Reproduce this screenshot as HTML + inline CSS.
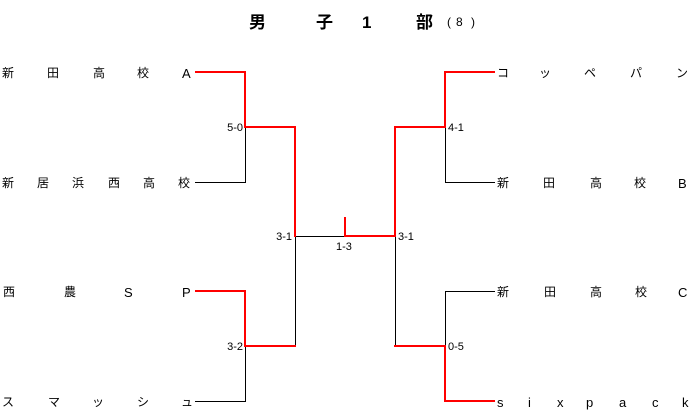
<!DOCTYPE html>
<html><head><meta charset="utf-8">
<style>
html,body{margin:0;padding:0;background:#fff;}
body{width:694px;height:420px;overflow:hidden;}
svg{display:block;}
.n{font-family:"Liberation Sans","Noto Sans CJK JP",sans-serif;font-size:12px;fill:#000;}
.l{font-family:"Liberation Sans",sans-serif;font-size:13px;fill:#000;}
.s{font-family:"Liberation Sans",sans-serif;font-size:11px;fill:#000;}
.t{font-family:"Liberation Sans","Noto Sans CJK JP",sans-serif;font-size:17px;font-weight:bold;fill:#000;}
</style></head>
<body>
<svg width="694" height="420" viewBox="0 0 694 420" xmlns="http://www.w3.org/2000/svg">
<g fill="none" stroke="#000" stroke-width="1" shape-rendering="crispEdges">
  <path d="M195,182.5 H245.5 V127"/>
  <path d="M195,401.5 H245.5 V346"/>
  <path d="M295.5,346 V236.5 H345"/>
  <path d="M495,182.5 H445.5 V127"/>
  <path d="M495,291.5 H445.5 V346"/>
  <path d="M395.5,346 V236"/>
</g>
<g fill="none" stroke="#f00" stroke-width="2" shape-rendering="crispEdges" stroke-linejoin="miter" stroke-linecap="square">
  <path d="M196,72 H245 V127 H295 V236"/>
  <path d="M196,291 H245 V346 H295"/>
  <path d="M345,218 V236 H395"/>
  <path d="M494,72 H445 V127 H395 V236"/>
  <path d="M494,401 H445 V346 H395"/>
</g>
<!-- title -->
<text class="t" x="249" y="28">男</text>
<text class="t" x="316" y="28">子</text>
<text class="t" x="362" y="28">1</text>
<text class="t" x="416" y="28">部</text>
<text class="n" x="447" y="26">(</text>
<text class="n" x="456" y="26">8</text>
<text class="n" x="471" y="26">)</text>
<!-- left names -->
<text class="n" x="2" y="77">新</text><text class="n" x="47" y="77">田</text><text class="n" x="93" y="77">高</text><text class="n" x="137" y="77">校</text><text class="l" x="182" y="78">A</text>
<text class="n" x="2" y="187">新</text><text class="n" x="37" y="187">居</text><text class="n" x="72" y="187">浜</text><text class="n" x="108" y="187">西</text><text class="n" x="143" y="187">高</text><text class="n" x="178" y="187">校</text>
<text class="n" x="3" y="296">西</text><text class="n" x="64" y="296">農</text><text class="l" x="124" y="297">S</text><text class="l" x="182" y="297">P</text>
<text class="n" x="2" y="406">ス</text><text class="n" x="48" y="406">マ</text><text class="n" x="92" y="406">ッ</text><text class="n" x="137" y="406">シ</text><text class="n" x="181" y="406">ュ</text>
<!-- right names -->
<text class="n" x="497" y="77">コ</text><text class="n" x="539" y="77">ッ</text><text class="n" x="584" y="77">ペ</text><text class="n" x="630" y="77">パ</text><text class="n" x="676" y="77">ン</text>
<text class="n" x="497" y="187">新</text><text class="n" x="543" y="187">田</text><text class="n" x="590" y="187">高</text><text class="n" x="634" y="187">校</text><text class="l" x="678" y="188">B</text>
<text class="n" x="497" y="296">新</text><text class="n" x="544" y="296">田</text><text class="n" x="590" y="296">高</text><text class="n" x="635" y="296">校</text><text class="l" x="678" y="297">C</text>
<text class="l" x="497" y="407">s</text><text class="l" x="528" y="407">i</text><text class="l" x="557" y="407">x</text><text class="l" x="586" y="407">p</text><text class="l" x="619" y="407">a</text><text class="l" x="652" y="407">c</text><text class="l" x="682" y="407">k</text>
<!-- scores -->
<text class="s" x="243" y="131" text-anchor="end">5-0</text>
<text class="s" x="243" y="350" text-anchor="end">3-2</text>
<text class="s" x="292" y="240" text-anchor="end">3-1</text>
<text class="s" x="336" y="250">1-3</text>
<text class="s" x="398" y="240">3-1</text>
<text class="s" x="448" y="131">4-1</text>
<text class="s" x="448" y="350">0-5</text>
</svg>
</body></html>
